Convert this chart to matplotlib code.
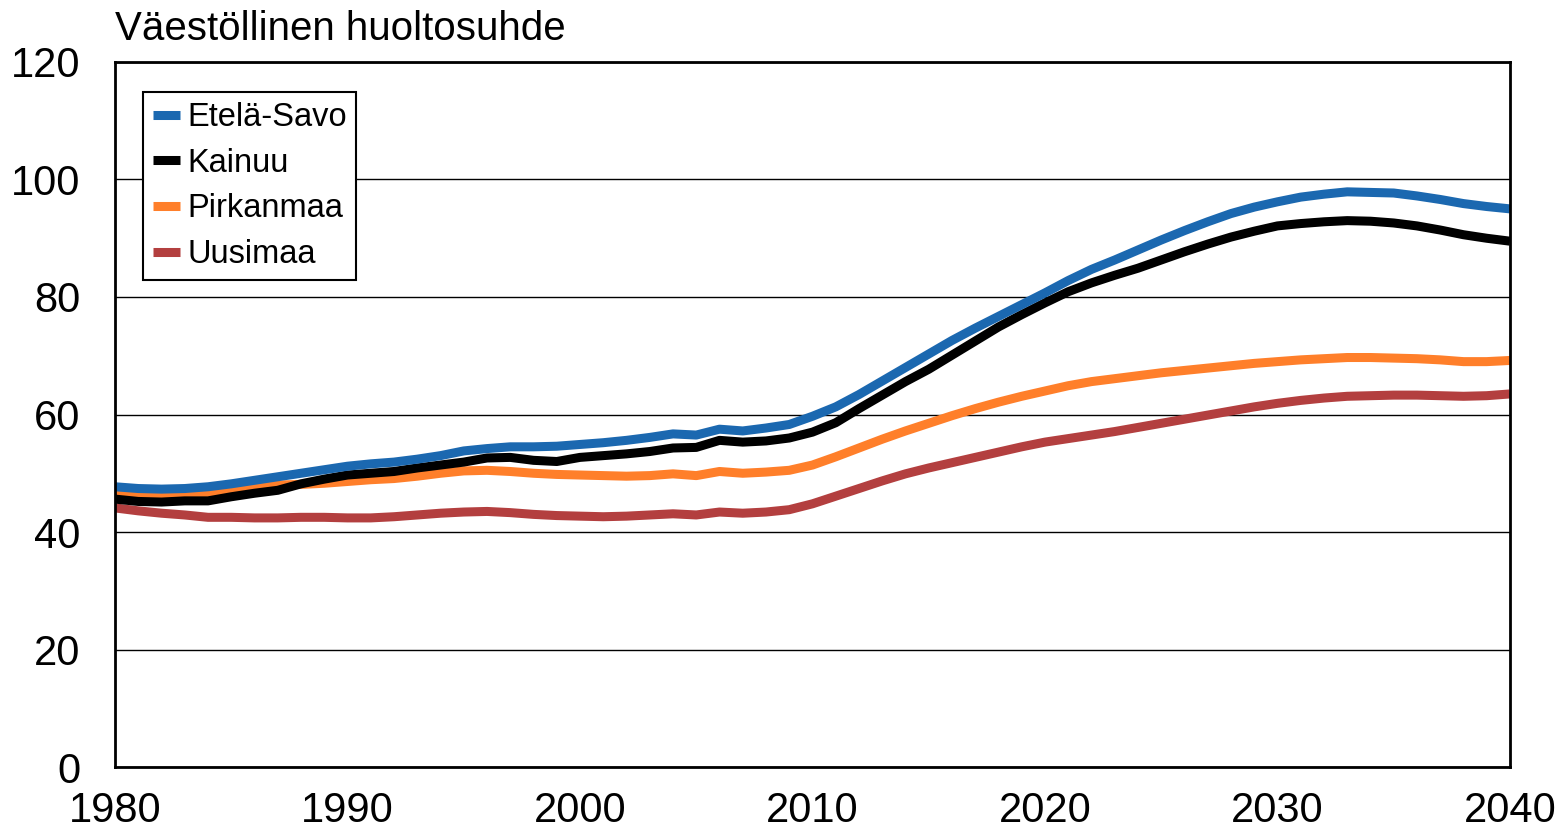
import matplotlib.pyplot as plt
import numpy as np

plt.rcParams['font.family'] = ['Liberation Sans', 'DejaVu Sans']

years = np.arange(1980, 2041)

etela_savo = [47.7, 47.4, 47.3, 47.4, 47.7, 48.2, 48.8, 49.4, 50.0, 50.6,
              51.2, 51.6, 51.9, 52.4, 53.0, 53.8, 54.2, 54.5, 54.5, 54.6,
              54.9, 55.2, 55.6, 56.1, 56.7, 56.5, 57.5, 57.2, 57.7, 58.3,
              59.7, 61.3, 63.4, 65.7, 68.0, 70.3, 72.6, 74.7, 76.7, 78.7,
              80.7, 82.8, 84.7, 86.3, 88.0, 89.7, 91.3, 92.8, 94.2, 95.3,
              96.2, 97.0, 97.5, 97.9, 97.8, 97.7, 97.2, 96.6, 95.9, 95.4,
              95.0]

kainuu = [45.6, 45.2, 45.1, 45.3, 45.3, 46.0, 46.6, 47.1, 48.2, 49.0,
          49.7, 50.0, 50.3, 50.9, 51.4, 51.9, 52.6, 52.7, 52.2, 52.0,
          52.7, 53.0, 53.3, 53.7, 54.3, 54.4, 55.6, 55.3, 55.5, 56.0,
          57.0, 58.6, 61.0, 63.3, 65.6, 67.7, 70.1, 72.5, 74.9, 77.0,
          79.0, 80.9, 82.4, 83.7, 84.9, 86.3, 87.7, 89.0, 90.2, 91.2,
          92.1, 92.5, 92.8, 93.0, 92.9, 92.6, 92.1, 91.4, 90.6, 90.0,
          89.5]

pirkanmaa = [46.5, 46.4, 46.4, 46.5, 46.6, 47.0, 47.5, 48.0, 48.1, 48.3,
             48.6, 48.9, 49.1, 49.5, 50.0, 50.4, 50.5, 50.3, 50.0, 49.8,
             49.7, 49.6, 49.5, 49.6, 49.9, 49.6, 50.3, 50.0, 50.2, 50.5,
             51.4, 52.8, 54.3, 55.8, 57.2, 58.5, 59.8, 61.0, 62.1, 63.1,
             64.0, 64.9, 65.6, 66.1, 66.6, 67.1, 67.5, 67.9, 68.3, 68.7,
             69.0, 69.3, 69.5, 69.7, 69.7, 69.6, 69.5, 69.3, 69.0, 69.0,
             69.2]

uusimaa = [44.1, 43.6, 43.2, 42.9, 42.5, 42.5, 42.4, 42.4, 42.5, 42.5,
           42.4, 42.4, 42.6, 42.9, 43.2, 43.4, 43.5, 43.3, 43.0, 42.8,
           42.7, 42.6, 42.7, 42.9, 43.1, 42.9, 43.4, 43.2, 43.4, 43.8,
           44.8, 46.1, 47.4, 48.7, 49.9, 50.9, 51.8, 52.7, 53.6, 54.5,
           55.3, 55.9, 56.5, 57.1, 57.8, 58.5, 59.2, 59.9, 60.6, 61.3,
           61.9, 62.4, 62.8, 63.1, 63.2, 63.3, 63.3, 63.2, 63.1, 63.2,
           63.5]

series = [('Etelä-Savo', etela_savo, '#1b68b0'),
          ('Kainuu', kainuu, '#000000'),
          ('Pirkanmaa', pirkanmaa, '#ff7f2a'),
          ('Uusimaa', uusimaa, '#b33f3f')]

fig = plt.figure(figsize=(15.61, 8.31), dpi=100)
ax = fig.add_axes([0.0737, 0.077, 0.8936, 0.8484])

for name, vals, col in reversed(series):
    ax.plot(years, vals, color=col, lw=6.5, label=name, solid_capstyle='butt')

ax.set_xlim(1980, 2040)
ax.set_ylim(0, 120)
ax.set_xticks(range(1980, 2041, 10))
ax.set_yticks(range(0, 121, 20))
ax.yaxis.grid(True, color='black', lw=1)
ax.set_axisbelow(True)
ax.tick_params(length=0, labelsize=30)
ax.tick_params(axis='y', pad=25)
ax.tick_params(axis='x', pad=17)
for s in ax.spines.values():
    s.set_linewidth(2)

handles, labels = ax.get_legend_handles_labels()
leg = ax.legend(handles[::-1], labels[::-1], loc='upper left',
                bbox_to_anchor=(0.02, 0.957), fontsize=23.5, frameon=True,
                fancybox=False, edgecolor='black', framealpha=1,
                handlelength=0.85, handletextpad=0.2, borderpad=0.3,
                labelspacing=0.45, borderaxespad=0)
leg.get_frame().set_linewidth(1.5)

ax.text(0, 1.02, 'Väestöllinen huoltosuhde', transform=ax.transAxes,
        fontsize=29, ha='left', va='bottom')

fig.savefig('out.png', dpi=100)
